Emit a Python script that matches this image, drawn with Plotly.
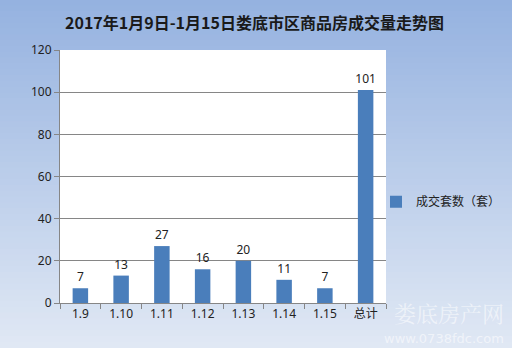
import plotly.graph_objects as go

categories = ["1.9", "1.10", "1.11", "1.12", "1.13", "1.14", "1.15", "总计"]
values = [7, 13, 27, 16, 20, 11, 7, 101]
series_name = "成交套数（套）"
title_text = "2017年1月9日-1月15日娄底市区商品房成交量走势图"
y_ticks = [0, 20, 40, 60, 80, 100, 120]

W, H = 512, 348
ml, mr, mt, mb = 60, 126, 50, 45

fig = go.Figure()
fig.add_trace(go.Bar(
    x=categories, y=values, name=series_name,
    marker=dict(color="#4a7ebb", line=dict(width=0)),
    width=0.38,
    text=[str(v) for v in values], textposition="outside",
    constraintext="none",
    textfont=dict(size=12, color="#222222", family="Noto Sans, DejaVu Sans"),
    cliponaxis=False,
    showlegend=True,
))

# gradient background bands (paper coords extended into margins)
top = (0x95, 0xb2, 0xe0)
bot = (0xe0, 0xe8, 0xf4)
n = 60
pw = W - ml - mr
ph = H - mt - mb
x0 = -ml / pw - 0.01
x1 = 1 + mr / pw + 0.01
y_bot = -mb / ph
y_top = 1 + mt / ph
shapes = []
for i in range(n):
    t = i / (n - 1)
    c = tuple(round(top[k] + (bot[k] - top[k]) * t) for k in range(3))
    ya = y_top - (y_top - y_bot) * i / n
    yb = y_top - (y_top - y_bot) * (i + 1) / n
    shapes.append(dict(type="rect", xref="paper", yref="paper",
                       x0=x0, x1=x1, y0=yb - 0.002, y1=ya + 0.002,
                       fillcolor="rgb(%d,%d,%d)" % c, line=dict(width=0),
                       layer="below"))
# white plot area
shapes.append(dict(type="rect", xref="paper", yref="paper", x0=0, x1=1, y0=0, y1=1,
                   fillcolor="white", line=dict(width=0), layer="below"))

fig.update_layout(
    width=W, height=H,
    margin=dict(l=ml, r=mr, t=mt, b=mb, autoexpand=False),
    paper_bgcolor="#c0d0ec",
    plot_bgcolor="rgba(0,0,0,0)",
    shapes=shapes,
    font=dict(family="Noto Sans, Noto Sans CJK SC", size=12, color="#222222"),
    xaxis=dict(
        showline=True, linecolor="#868686", linewidth=1,
        ticks="outside", tickson="boundaries", ticklen=5, tickcolor="#868686",
        tickfont=dict(size=12, color="#222222", family="Noto Sans, Noto Sans CJK SC"),
        showgrid=False, fixedrange=True,
    ),
    yaxis=dict(
        range=[0, 120], tickvals=y_ticks,
        showline=True, linecolor="#868686", linewidth=1,
        ticks="outside", ticklen=5, tickcolor="#868686",
        showgrid=True, gridcolor="#868686", gridwidth=1,
        zeroline=False,
        tickfont=dict(size=12, color="#222222"),
        fixedrange=True,
    ),
    legend=dict(x=(376 - ml) / pw, y=0.40, xanchor="left", yanchor="middle",
                bgcolor="rgba(0,0,0,0)",
                font=dict(size=12, color="#222222", family="Noto Sans CJK SC"),
                itemwidth=30),
    annotations=[
        dict(text="<b>" + title_text + "</b>", xref="paper", yref="paper",
             x=(254 - ml) / pw, y=1 + (mt - 22) / ph, xanchor="center", yanchor="middle",
             showarrow=False,
             font=dict(size=16, color="#1a1a1a", family="Noto Sans CJK SC")),
        dict(text="娄底房产网", xref="paper", yref="paper", x=1 + (506 - 386) / pw, y=-(312 - 303) / ph,
             xanchor="right", yanchor="middle", showarrow=False,
             font=dict(size=22, color="rgba(255,255,255,0.55)", family="Noto Serif CJK SC, Noto Sans CJK SC")),
        dict(text="www.0738fdc.com", xref="paper", yref="paper", x=1 + (506 - 386) / pw, y=-(338 - 303) / ph,
             xanchor="right", yanchor="middle", showarrow=False,
             font=dict(size=13, color="rgba(255,255,255,0.55)", family="DejaVu Sans")),
    ],
)

fig.write_html("out.html")
